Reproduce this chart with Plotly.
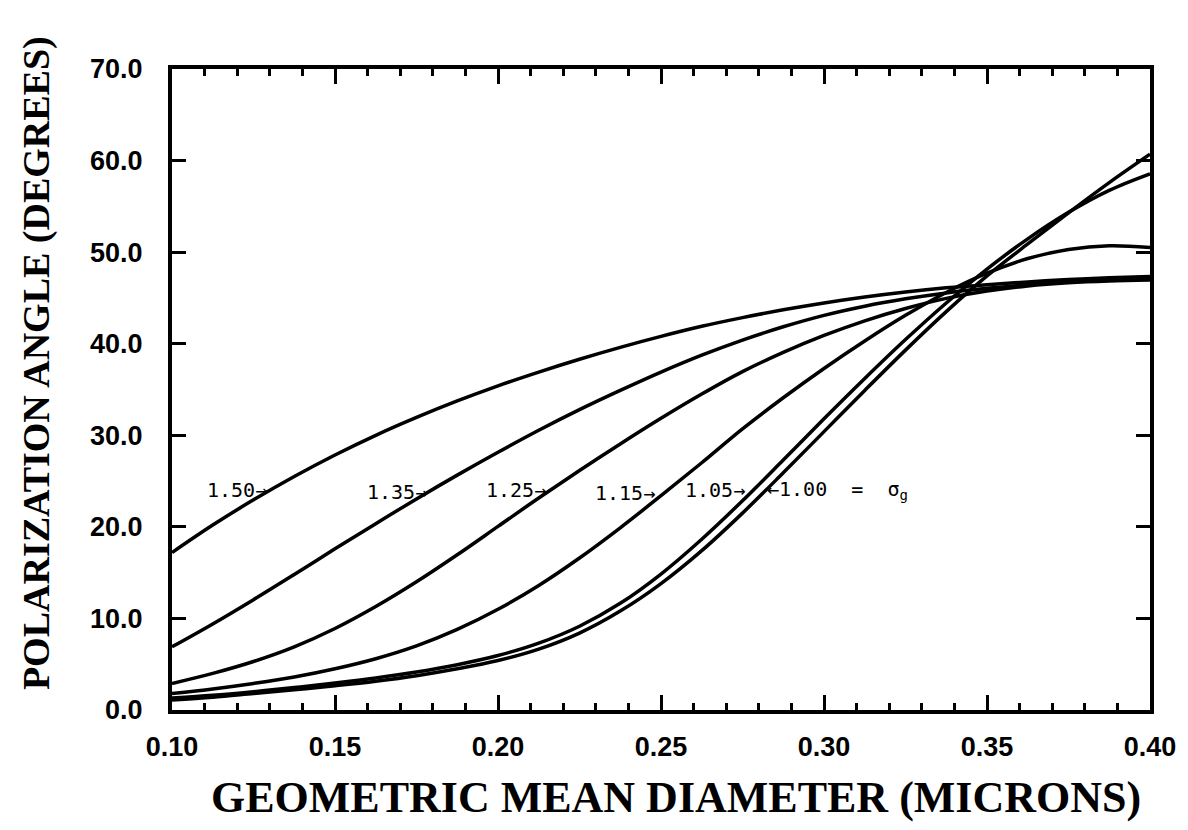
import plotly.graph_objects as go

# x positions (geometric mean diameter, microns)
x_vals = [0.100, 0.1125, 0.125, 0.1375, 0.150, 0.1625, 0.175, 0.1875, 0.200, 0.2125,
          0.225, 0.2375, 0.250, 0.2625, 0.275, 0.2875, 0.300, 0.3125, 0.325, 0.3375,
          0.350, 0.3625, 0.375, 0.3875, 0.400]

# polarization angle (degrees) for each sigma_g
sg_150 = [17.2, 20.2, 22.95, 25.5, 27.85, 30.0, 31.95, 33.75, 35.4, 36.9,
          38.3, 39.6, 40.8, 41.9, 42.85, 43.7, 44.45, 45.1, 45.65, 46.1,
          46.45, 46.75, 47.0, 47.2, 47.35]
sg_135 = [6.9, 9.4, 12.05, 14.8, 17.6, 20.35, 23.05, 25.65, 28.15, 30.55,
          32.8, 34.9, 36.9, 38.75, 40.4, 41.85, 43.1, 44.1, 44.9, 45.55,
          46.05, 46.45, 46.75, 46.95, 47.1]
sg_125 = [2.9, 4.0, 5.3, 6.9, 8.9, 11.3, 14.0, 16.95, 20.05, 23.15,
          26.15, 29.05, 31.85, 34.5, 36.95, 39.05, 40.9, 42.5, 43.85, 44.95,
          45.75, 46.3, 46.65, 46.85, 46.95]
sg_115 = [1.8, 2.3, 2.9, 3.6, 4.5, 5.6, 7.0, 8.8, 11.0, 13.6,
          16.6, 19.9, 23.4, 27.0, 30.7, 34.1, 37.3, 40.3, 43.1, 45.6,
          47.7, 49.3, 50.3, 50.7, 50.5]
sg_105 = [1.3, 1.6, 2.0, 2.45, 2.95, 3.5, 4.15, 4.95, 5.95, 7.3,
          9.15, 11.65, 14.85, 18.65, 22.85, 27.3, 31.8, 36.2, 40.45, 44.45,
          48.15, 51.45, 54.35, 56.75, 58.55]
sg_100 = [1.1, 1.4, 1.8, 2.2, 2.65, 3.15, 3.75, 4.5, 5.4, 6.65,
          8.4, 10.8, 13.8, 17.4, 21.5, 25.9, 30.4, 34.9, 39.3, 43.5,
          47.4, 50.9, 54.3, 57.6, 60.7]

series = [sg_150, sg_135, sg_125, sg_115, sg_105, sg_100]

# curve labels: text, arrow-tip x, y, anchor
label_text = ["1.50\u2192", "1.35\u2192", "1.25\u2192", "1.15\u2192", "1.05\u2192",
              "\u21901.00  =  \u03c3<sub>g</sub>"]
label_x = [0.1299, 0.1787, 0.2153, 0.2489, 0.2764, 0.2819]
label_y = [24.0, 23.8, 24.0, 23.7, 24.0, 24.0]
label_anchor = ["right", "right", "right", "right", "right", "left"]

x_ticks = [0.10, 0.15, 0.20, 0.25, 0.30, 0.35, 0.40]
y_ticks = [0, 10, 20, 30, 40, 50, 60, 70]

fig = go.Figure()
for ys in series:
    fig.add_trace(go.Scatter(x=x_vals, y=ys, mode="lines",
                             line=dict(color="black", width=3.5, shape="spline"),
                             showlegend=False, hoverinfo="skip"))

for t, lx, ly, la in zip(label_text, label_x, label_y, label_anchor):
    fig.add_annotation(x=lx, y=ly, xref="x", yref="y", text=t, showarrow=False,
                       xanchor=la, yanchor="middle",
                       font=dict(family="DejaVu Sans Mono", size=20, color="black"))

tickfont = dict(family="Liberation Sans", size=27, color="black", weight="bold")

fig.update_xaxes(range=[0.1, 0.4], tickmode="array", tickvals=x_ticks,
                 ticktext=[f"{v:.2f}" for v in x_ticks],
                 ticks="inside", ticklen=15, tickwidth=2.5, tickcolor="black",
                 showline=True, linewidth=4, linecolor="black", mirror="ticks",
                 showgrid=False, zeroline=False, tickfont=tickfont,
                 ticklabelstandoff=10,
                 minor=dict(dtick=0.01, tick0=0.1, ticks="inside", ticklen=7,
                            tickwidth=2.5, tickcolor="black", showgrid=False))
fig.update_yaxes(range=[0, 70], tickmode="array", tickvals=y_ticks,
                 ticktext=[f"{v:.1f}" for v in y_ticks],
                 ticks="inside", ticklen=14, tickwidth=2.5, tickcolor="black",
                 showline=True, linewidth=4, linecolor="black", mirror="ticks",
                 showgrid=False, zeroline=False, tickfont=tickfont,
                 ticklabelstandoff=20)

fig.add_annotation(text="POLARIZATION ANGLE (DEGREES)", xref="paper", yref="paper",
                   x=-0.139, y=0.028, xanchor="center", yanchor="bottom",
                   textangle=-90, showarrow=False,
                   font=dict(family="Liberation Serif", size=38, color="black",
                             weight="bold"))
fig.add_annotation(text="GEOMETRIC MEAN DIAMETER (MICRONS)", xref="paper", yref="paper",
                   x=0.515, y=-0.136, xanchor="center", yanchor="middle",
                   showarrow=False,
                   font=dict(family="Liberation Serif", size=44, color="black",
                             weight="bold"))

fig.update_layout(width=1188, height=830, margin=dict(l=172, r=33, t=69, b=120),
                  paper_bgcolor="white", plot_bgcolor="white")
fig.write_html("out.html")
